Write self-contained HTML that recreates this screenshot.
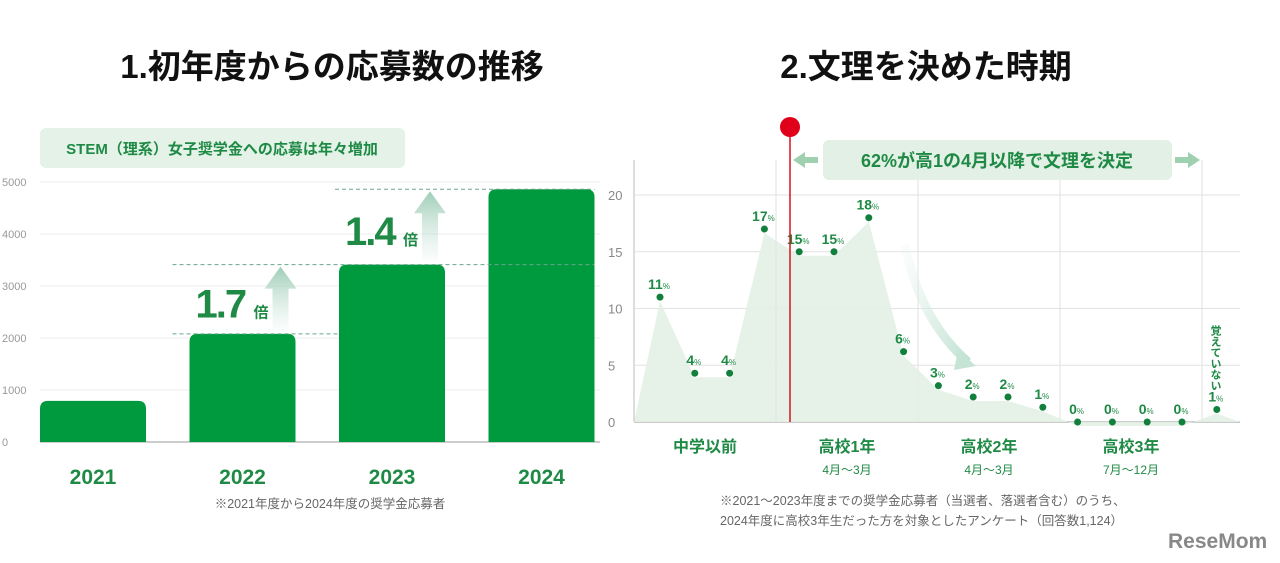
<!DOCTYPE html>
<html><head><meta charset="utf-8"><style>
html,body{margin:0;padding:0;background:#fff;width:1280px;height:563px;overflow:hidden}
svg text{font-family:"Liberation Sans","Noto Sans CJK JP",sans-serif}
</style></head><body>
<svg id="s" width="1280" height="563" viewBox="0 0 1280 563" xmlns="http://www.w3.org/2000/svg">
<defs>
<linearGradient id="ag" x1="0" y1="1" x2="0" y2="0"><stop offset="0" stop-color="#cfe6dc" stop-opacity="0.1"/><stop offset="1" stop-color="#9fcdb8"/></linearGradient>
<linearGradient id="cg" x1="0" y1="0" x2="1" y2="1"><stop offset="0" stop-color="#e6f3ec" stop-opacity="0.2"/><stop offset="1" stop-color="#bfe1d2"/></linearGradient>
</defs>
<text x="332" y="78" text-anchor="middle" font-size="33" font-weight="bold" fill="#111">1.初年度からの応募数の推移</text>
<text x="926" y="78" text-anchor="middle" font-size="33" font-weight="bold" fill="#111">2.文理を決めた時期</text>
<rect x="40" y="128" width="365" height="40" rx="6" fill="#e4f2e8"/>
<text x="222" y="154" text-anchor="middle" font-size="15" font-weight="bold" fill="#1f8a45">STEM（理系）女子奨学金への応募は年々増加</text>
<g id="L"></g>
<g id="R"></g>
<text x="330" y="508" text-anchor="middle" font-size="12.5" fill="#666">※2021年度から2024年度の奨学金応募者</text>
<text x="720" y="505" font-size="12.5" fill="#666">※2021～2023年度までの奨学金応募者（当選者、落選者含む）のうち、</text>
<text x="720" y="525" font-size="12.5" fill="#666">2024年度に高校3年生だった方を対象としたアンケート（回答数1,124）</text>
<text x="1168" y="548" font-size="21" font-weight="bold" fill="#888">ReseMom</text>
</svg>
<script>
const years=["2021","2022","2023","2024"];
const applicants=[790,2080,3410,4860];
const leftTicks=[0,1000,2000,3000,4000,5000];
const shares=[11,4.3,4.3,17,15,15,18,6.2,3.2,2.2,2.2,1.3,0,0,0,0,1.1];
const shareLabels=["11","4","4","17","15","15","18","6","3","2","2","1","0","0","0","0","1"];
const rightTicks=[0,5,10,15,20];
const groups=[["中学以前",""],["高校1年","4月～3月"],["高校2年","4月～3月"],["高校3年","7月～12月"]];
const NS="http://www.w3.org/2000/svg";
function mk(p,t,a,txt){const e=document.createElementNS(NS,t);for(const k in a)e.setAttribute(k,a[k]);if(txt!==undefined)e.textContent=txt;p.appendChild(e);return e;}
// left chart
const L=document.getElementById('L');
const ly=v=>442-v*0.052;
const lx=i=>40+i*149.5;
leftTicks.forEach(t=>{
 const g=mk(L,'line',{x1:40,x2:600,y1:ly(t),y2:ly(t),stroke:t?'#ececec':'#bbb','stroke-width':t?1:1.5});
 
 
 const tx=mk(L,'text',{x:2,y:ly(t)+4,'font-size':11,fill:'#999'},String(t));
 
 
});
applicants.forEach((v,i)=>{
 const y=ly(v),x=lx(i),w=106,r=8;
 const b=mk(L,'path',{d:`M${x},442V${y+r}Q${x},${y} ${x+r},${y}H${x+w-r}Q${x+w},${y} ${x+w},${y+r}V442Z`,fill:'#009a3e'});
 
 
 const t=mk(L,'text',{x:x+w/2,y:484,'text-anchor':'middle','font-size':21,'font-weight':'bold',fill:'#1f8a45'},years[i]);
 
 
});
function dash(x1,x2,y){
 const d1=mk(L,'line',{x1,x2,y1:y,y2:y,stroke:'#6aa58c','stroke-dasharray':'4 3'});
 
 
}
dash(lx(1)-17,lx(2),ly(applicants[1]));
dash(lx(1)-17,lx(3)+106,ly(applicants[2]));
dash(lx(2)-4,lx(3)+106,ly(applicants[3]));
function ratio(i,lab){
 const y0=ly(applicants[i]),y1=ly(applicants[i+1]);
 const ax=lx(i)+75;
 const a=mk(L,'path',{d:`M${ax+8},${y0-4}V${y1+24}H${ax}L${ax+16},${y1+2}L${ax+32},${y1+24}H${ax+24}V${y0-4}Z`,fill:'url(#ag)'});
 
 
 const my=(y0+y1)/2;
 const t=mk(L,'text',{x:lx(i)+6,y:my+18,'font-size':40,'font-weight':'bold',fill:'#1f8a45','letter-spacing':'-2'},lab);
 
 
 const t2=mk(L,'text',{x:lx(i)+64,y:my+18,'font-size':15,'font-weight':'bold',fill:'#1f8a45'},'倍');
 
 
}
ratio(1,'1.7');ratio(2,'1.4');
// right chart
const R=document.getElementById('R');
const ry=v=>422-v*11.35;
const rx=i=>660+i*34.8;
[634,918,1060,1202].forEach(x=>{
 const l=mk(R,'line',{x1:x,x2:x,y1:160,y2:422,stroke:x==634?'#bbb':'#e2e2e2'});
 
 
});
rightTicks.forEach(t=>{
 const l=mk(R,'line',{x1:634,x2:1240,y1:ry(t),y2:ry(t),stroke:t?'#e2e2e2':'#bbb','stroke-width':t?1:1.5});
 
 
 const tx=mk(R,'text',{x:608,y:ry(t)+5,'font-size':13,fill:'#888'},String(t));
 
 
});
let d=`M634,422`;shares.forEach((v,i)=>{d+=`L${rx(i)},${ry(v)+4}`});d+=`L1240,422Z`;
const ar=mk(R,'path',{d,fill:'#e3f1e6',opacity:0.9});


const vg=mk(R,'line',{x1:776,x2:776,y1:160,y2:422,stroke:'#e2e2e2'});


const cur=mk(R,'path',{d:'M905,245Q920,320 968,362',fill:'none',stroke:'url(#cg)','stroke-width':9});


const ch=mk(R,'path',{d:'M958,350L976,366L954,370Z',fill:'#c6e4d6'});


shares.forEach((v,i)=>{
 const c=mk(R,'circle',{cx:rx(i),cy:ry(v),r:3.5,fill:'#12803d'});
 
 
 const t=mk(R,'text',{x:rx(i)-1,y:ry(v)-8,'text-anchor':'middle','font-size':14,'font-weight':'bold',fill:'#1f8a45'});
 
 
 t.textContent=shareLabels[i];
 mk(t,'tspan',{'font-size':8,'font-weight':'normal'},'%');
});
const vt=mk(R,'text',{x:1215,y:325,'font-size':11,'font-weight':'bold',fill:'#1f8a45','writing-mode':'tb'},'覚えていない');


groups.forEach((g,i)=>{
 const cx=705+i*142;
 const t=mk(R,'text',{x:cx,y:452,'text-anchor':'middle','font-size':16,'font-weight':'bold',fill:'#1f8a45'},g[0]);
 
 
 if(g[1]){const s=mk(R,'text',{x:cx,y:474,'text-anchor':'middle','font-size':12,fill:'#1f8a45'},g[1]);
 
 }
});
const rl=mk(R,'line',{x1:790,x2:790,y1:127,y2:422,stroke:'#d7141a','stroke-width':1.5});


const rc=mk(R,'circle',{cx:790,cy:127,r:10,fill:'#e0001a'});


const bx=mk(R,'rect',{x:823,y:140,width:349,height:40,rx:6,fill:'#e2f0e5'});


const bt=mk(R,'text',{x:997,y:167,'text-anchor':'middle','font-size':18,'font-weight':'bold',fill:'#1f8a45'},'62%が高1の4月以降で文理を決定');


const la=mk(R,'path',{d:'M793,160L805,152V157H818V163H805V168Z',fill:'#9fd0b0'});


const raw=mk(R,'path',{d:'M1200,160L1188,152V157H1175V163H1188V168Z',fill:'#9fd0b0'});


</script>
</body></html>
